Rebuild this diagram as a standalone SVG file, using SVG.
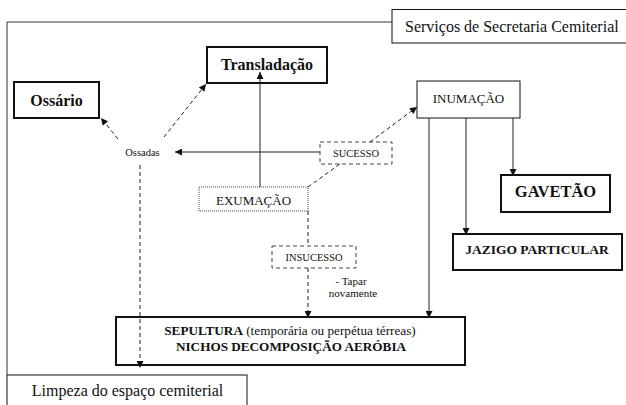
<svg xmlns="http://www.w3.org/2000/svg" width="626" height="405" viewBox="0 0 626 405" font-family="'Liberation Serif', 'DejaVu Serif', serif">
  <style>
    text { font-family: 'Liberation Serif', 'DejaVu Serif', serif; fill: #111; }
    .b { font-weight: bold; }
    .frame { fill: none; stroke: #333; stroke-width: 1; }
    .box { fill: #fff; stroke: #111; stroke-width: 1; }
    .thick { fill: none; stroke: #111; stroke-width: 2; }
    .dashbox { fill: #fff; stroke: #444; stroke-width: 1; stroke-dasharray: 4 3; }
    .dotbox { fill: #fff; stroke: #444; stroke-width: 1; stroke-dasharray: 1 1; }
    .solid { fill: none; stroke: #222; stroke-width: 1; }
    .dash { fill: none; stroke: #222; stroke-width: 1; stroke-dasharray: 4 3; }
  </style>
  <defs>
    <marker id="arrow" viewBox="0 0 10 10" refX="10" refY="5" markerWidth="8" markerHeight="7" markerUnits="userSpaceOnUse" orient="auto">
      <path d="M0,0 L10,5 L0,10 Z" fill="#111"/>
    </marker>
  </defs>

  <rect width="626" height="405" fill="#fff"/>

  <!-- outer frame -->
  <g id="frame">
    <path class="frame" d="M392,22 H7 V375"/>
  </g>

  <g id="servicos">
    <rect class="box" x="392" y="9.5" width="240" height="33.5"/>
    <text x="405" y="32" font-size="16">Serviços de Secretaria Cemiterial</text>
  </g>

  <g id="limpeza">
    <rect class="box" x="7" y="375" width="240" height="40"/>
    <text x="127.5" y="396" font-size="16" text-anchor="middle">Limpeza do espaço cemiterial</text>
  </g>

  <g id="ossario">
    <rect class="thick" x="14" y="82" width="85" height="36"/>
    <text class="b" x="56.5" y="106" font-size="16" text-anchor="middle">Ossário</text>
  </g>

  <g id="translacao">
    <rect class="thick" x="207" y="47" width="120" height="36"/>
    <text class="b" x="267" y="70" font-size="16" text-anchor="middle">Transladação</text>
  </g>

  <g id="ossadas">
    <text x="142.5" y="155.5" font-size="10.5" text-anchor="middle">Ossadas</text>
  </g>

  <g id="sucesso">
    <rect class="dashbox" x="320" y="142" width="72" height="22"/>
    <text x="356" y="157" font-size="10.5" text-anchor="middle">SUCESSO</text>
  </g>

  <g id="exumacao">
    <rect class="dotbox" x="199" y="187" width="109" height="24"/>
    <text x="253.5" y="204.5" font-size="13" text-anchor="middle">EXUMAÇÃO</text>
  </g>

  <g id="insucesso">
    <rect class="dashbox" x="272" y="246" width="84" height="22"/>
    <text x="314" y="261" font-size="10.5" text-anchor="middle">INSUCESSO</text>
  </g>

  <g id="tapar">
    <text x="351" y="285" font-size="11" text-anchor="middle">- Tapar</text>
    <text x="353" y="297" font-size="11" text-anchor="middle">novamente</text>
  </g>

  <g id="inumacao">
    <rect class="box" x="417" y="81" width="103" height="37"/>
    <text x="468.5" y="103" font-size="13" text-anchor="middle">INUMAÇÃO</text>
  </g>

  <g id="gavetao">
    <rect class="thick" x="501" y="175" width="109" height="37"/>
    <text class="b" x="555.5" y="197" font-size="16.5" text-anchor="middle">GAVETÃO</text>
  </g>

  <g id="jazigo">
    <rect class="thick" x="453" y="234" width="169" height="36"/>
    <text class="b" x="537" y="254" font-size="13.5" text-anchor="middle">JAZIGO PARTICULAR</text>
  </g>

  <g id="sepultura">
    <rect class="thick" x="116" y="317" width="349" height="48"/>
    <text x="290" y="335" font-size="13.2" text-anchor="middle"><tspan font-weight="bold">SEPULTURA</tspan> (temporária ou perpétua térreas)</text>
    <text class="b" x="291" y="351" font-size="13.2" text-anchor="middle">NICHOS DECOMPOSIÇÃO AERÓBIA</text>
  </g>

  <!-- connectors, drawn over the boxes they reach into -->
  <g id="connectors">
    <line class="dash" x1="118" y1="139" x2="101" y2="118" marker-end="url(#arrow)"/>
    <line class="dash" x1="164" y1="137" x2="206" y2="84" marker-end="url(#arrow)"/>
    <line class="solid" x1="320" y1="152" x2="175" y2="152" marker-end="url(#arrow)"/>
    <line class="dash" x1="140" y1="165" x2="140" y2="368" marker-end="url(#arrow)"/>
    <line class="solid" x1="260" y1="187" x2="260" y2="72" marker-end="url(#arrow)"/>
    <line class="dash" x1="370" y1="142" x2="417" y2="107" marker-end="url(#arrow)"/>
    <line class="dash" x1="308" y1="187" x2="340" y2="164"/>
    <line class="dash" x1="308" y1="211" x2="308" y2="246"/>
    <line class="dash" x1="308" y1="268" x2="308" y2="318" marker-end="url(#arrow)"/>
    <line class="solid" x1="429" y1="118" x2="429" y2="318" marker-end="url(#arrow)"/>
    <line class="solid" x1="466" y1="118" x2="466" y2="235" marker-end="url(#arrow)"/>
    <line class="solid" x1="513" y1="118" x2="513" y2="176" marker-end="url(#arrow)"/>
  </g>
</svg>
